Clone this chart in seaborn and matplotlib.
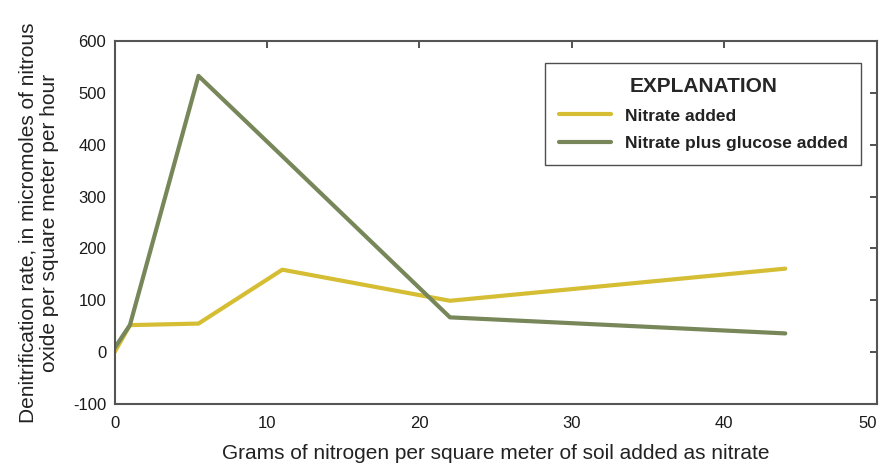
import matplotlib
matplotlib.use("Agg")
import matplotlib.pyplot as plt
import seaborn as sns
import pandas as pd

nitrate_x = [0, 1, 5.5, 11, 22, 44]
nitrate_y = [0, 52, 55, 159, 99, 161]
glucose_x = [0, 1, 5.5, 11, 22, 44]
glucose_y = [8, 52, 533, 378, 67, 36]
series_names = ["Nitrate added", "Nitrate plus glucose added"]
x_ticks = [0, 10, 20, 30, 40, 50]
y_ticks = [-100, 0, 100, 200, 300, 400, 500, 600]

sns.set_theme(style="white")
plt.rcParams["font.family"] = ["Liberation Sans", "DejaVu Sans"]
plt.rcParams["axes.unicode_minus"] = False

df = pd.concat([
    pd.DataFrame({"x": nitrate_x, "y": nitrate_y, "s": series_names[0]}),
    pd.DataFrame({"x": glucose_x, "y": glucose_y, "s": series_names[1]}),
])

fig = plt.figure(figsize=(8.82, 4.68), dpi=100)
ax = fig.add_axes([0.130, 0.137, 0.864, 0.775])
palette = {series_names[0]: "#D5BE33", series_names[1]: "#77875A"}
sns.lineplot(data=df, x="x", y="y", hue="s", palette=palette, lw=3, ax=ax,
             sort=False, estimator=None)

ax.set_xlim(0, 50)
ax.set_ylim(-100, 600)
ax.set_xticks(x_ticks)
ax.set_yticks(y_ticks)
ax.tick_params(direction="in", length=5, width=1.2, color="#333333",
               labelsize=12, top=True, right=True, labelcolor="#1a1a1a", pad=6)
ax.tick_params(axis="x", pad=9)
ax.get_xticklabels()[-1].set_ha("right")
for sp in ax.spines.values():
    sp.set_color("#555555")
    sp.set_linewidth(1.5)
ax.set_xlabel("Grams of nitrogen per square meter of soil added as nitrate",
              fontsize=15, color="#222222", labelpad=9)
ax.set_ylabel("Denitrification rate, in micromoles of nitrous\noxide per square meter per hour",
              fontsize=15, color="#222222", labelpad=10)

leg = ax.legend(title="EXPLANATION", loc="upper right", bbox_to_anchor=(0.980, 0.939),
                borderaxespad=0, frameon=True, fancybox=False, edgecolor="#222222",
                prop={"weight": "bold", "size": 12.5}, handlelength=3.0,
                borderpad=0.8, labelspacing=0.7)
leg.get_title().set_fontweight("bold")
leg.get_title().set_fontsize(15)
leg.get_frame().set_linewidth(1.0)
for t in leg.get_texts():
    t.set_color("#222222")

fig.savefig("out.png", dpi=100)
